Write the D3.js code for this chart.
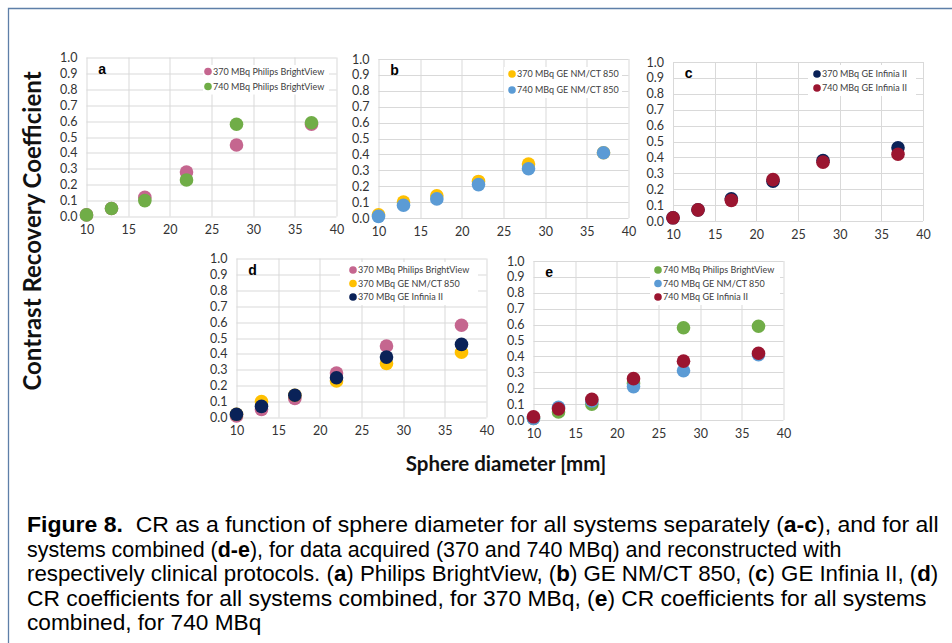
<!DOCTYPE html>
<html>
<head>
<meta charset="utf-8">
<script src="https://cdn.jsdelivr.net/npm/d3@7"></script>
<style>
  html, body { margin: 0; padding: 0; background: #fff; }
  svg { display: block; }
</style>
</head>
<body>
<svg id="fig" width="952" height="643"></svg>
<script>
// Sphere diameters (mm)
const diameters = [10, 13, 17, 22, 28, 37];

// Contrast recovery coefficients per system and activity
const philips370 = [0.01, 0.05, 0.12, 0.28, 0.45, 0.58];
const philips740 = [0.01, 0.05, 0.10, 0.23, 0.58, 0.59];
const geNmct370  = [0.02, 0.10, 0.14, 0.23, 0.34, 0.41];
const geNmct740  = [0.01, 0.08, 0.12, 0.21, 0.31, 0.41];
const infinia370 = [0.02, 0.07, 0.14, 0.25, 0.38, 0.46];
const infinia740 = [0.02, 0.07, 0.13, 0.26, 0.37, 0.42];

// Axis ticks
const xTicks = [10, 15, 20, 25, 30, 35, 40];
const yTicks = [0, 0.1, 0.2, 0.3, 0.4, 0.5, 0.6, 0.7, 0.8, 0.9, 1.0];

const series = {
  p370: { name: "370 MBq Philips BrightView", values: philips370, color: "#C5668F" },
  p740: { name: "740 MBq Philips BrightView", values: philips740, color: "#70AD47" },
  g370: { name: "370 MBq GE NM/CT 850", values: geNmct370, color: "#FFC000" },
  g740: { name: "740 MBq GE NM/CT 850", values: geNmct740, color: "#5B9BD5" },
  i370: { name: "370 MBq GE Infinia II", values: infinia370, color: "#0A2258" },
  i740: { name: "740 MBq GE Infinia II", values: infinia740, color: "#9B1530" }
};

// Panel layout: plot-area origin and legend placement
const panels = [
  { tag: "a", left: 86.5, top: 57.5, keys: ["p370", "p740"], legend: { x: 203, y: 65, w: 126, rowY: [71.5, 86.5], dx: 5 } },
  { tag: "b", left: 378.5, top: 59,  keys: ["g370", "g740"], legend: { x: 504, y: 67, w: 118, rowY: [74, 90], dx: 8 } },
  { tag: "c", left: 673,   top: 62,  keys: ["i370", "i740"], legend: { x: 808, y: 65, w: 108, rowY: [74, 88], dx: 9 } },
  { tag: "d", left: 236.5, top: 258.5, keys: ["p370", "g370", "i370"], legend: { x: 340, y: 262, w: 138, rowY: [270, 283.5, 297], dx: 13 } },
  { tag: "e", left: 533.5, top: 261, keys: ["p740", "g740", "i740"], legend: { x: 650, y: 262, w: 130, rowY: [270, 283.5, 297], dx: 8 } }
];

const W = 250, H = 159;
const svg = d3.select("#fig");

// Outer figure frame
svg.append("path")
  .attr("d", "M8.5,643 V8.5 H952")
  .attr("fill", "none")
  .attr("stroke", "#5E7FA8")
  .attr("stroke-width", 1.3);

const tickFont = "Lato, 'Open Sans', sans-serif";

panels.forEach(p => {
  const x = d3.scaleLinear().domain([10, 40]).range([0, W]);
  const y = d3.scaleLinear().domain([0, 1]).range([H, 0]);
  const g = svg.append("g").attr("transform", `translate(${p.left},${p.top})`);

  // Gridlines
  g.append("g").selectAll("line").data(yTicks).join("line")
    .attr("x1", 0).attr("x2", W)
    .attr("y1", d => Math.round(y(d)) + 0.5).attr("y2", d => Math.round(y(d)) + 0.5)
    .attr("stroke", "#D9D9D9");
  g.append("g").selectAll("line").data(xTicks).join("line")
    .attr("y1", 0).attr("y2", H)
    .attr("x1", d => Math.round(x(d)) + 0.5).attr("x2", d => Math.round(x(d)) + 0.5)
    .attr("stroke", "#D9D9D9");

  // Axes (labels only, lines drawn by the grid)
  const yAxis = g.append("g")
    .call(d3.axisLeft(y).tickValues(yTicks).tickFormat(d3.format(".1f")).tickSize(0).tickPadding(9));
  const xAxis = g.append("g").attr("transform", `translate(0,${H})`)
    .call(d3.axisBottom(x).tickValues(xTicks).tickFormat(d3.format("d")).tickSize(0).tickPadding(9));
  [yAxis, xAxis].forEach(a => {
    a.select(".domain").remove();
    a.selectAll("text").attr("font-family", tickFont).attr("font-size", 12.5).attr("fill", "#333");
  });

  const L = p.legend;
  const lg = svg.append("g");

  // Data points, later series drawn on top
  p.keys.forEach(k => {
    const s = series[k];
    g.append("g").selectAll("circle").data(diameters.map((d, i) => [d, s.values[i]])).join("circle")
      .attr("cx", d => x(d[0])).attr("cy", d => y(d[1]))
      .attr("r", 6.8)
      .attr("fill", s.color);
  });

  // Legend box hides the grid behind it
  lg.append("rect")
    .attr("x", L.x).attr("y", L.y).attr("width", L.w).attr("height", L.rowY[L.rowY.length - 1] - L.y + 8)
    .attr("fill", "#fff");
  p.keys.forEach((k, i) => {
    const s = series[k];
    lg.append("circle").attr("cx", L.x + L.dx).attr("cy", L.rowY[i]).attr("r", 3.8).attr("fill", s.color);
    lg.append("text").attr("x", L.x + L.dx + 5).attr("y", L.rowY[i]).attr("dy", "0.35em")
      .attr("font-family", tickFont).attr("font-size", 9).attr("fill", "#404040")
      .text(s.name);
  });

  // Panel letter
  g.append("text")
    .attr("transform", `translate(${x(11.4)},${y(0.93)})`)
    .attr("dy", "0.35em")
    .attr("font-family", "'Liberation Sans', Arial, sans-serif")
    .attr("font-weight", "bold").attr("font-size", 14).attr("fill", "#000")
    .text(p.tag);
});

// Shared axis titles
svg.append("text")
  .attr("transform", "translate(33,231) rotate(-90)")
  .attr("text-anchor", "middle").attr("dy", "0.35em")
  .attr("font-family", "Lato, 'Open Sans', sans-serif").attr("font-weight", "bold")
  .attr("font-size", 24).attr("fill", "#111")
  .text("Contrast Recovery Coefficient");

svg.append("text")
  .attr("x", 506).attr("y", 464)
  .attr("text-anchor", "middle").attr("dy", "0.35em")
  .attr("font-family", "Lato, 'Open Sans', sans-serif").attr("font-weight", "bold")
  .attr("font-size", 20.5).attr("fill", "#111")
  .text("Sphere diameter [mm]");

// Figure caption with bold fragments; each line is fitted to its set width
const captionLines = [
  [["Figure 8.", true], ["  CR as a function of sphere diameter for all systems separately (", false], ["a-c", true], ["), and for all", false]],
  [["systems combined (", false], ["d-e", true], ["), for data acquired (370 and 740 MBq) and reconstructed with", false]],
  [["respectively clinical protocols. (", false], ["a", true], [") Philips BrightView, (", false], ["b", true], [") GE NM/CT 850, (", false], ["c", true], [") GE Infinia II, (", false], ["d", true], [")", false]],
  [["CR coefficients for all systems combined, for 370 MBq, (", false], ["e", true], [") CR coefficients for all systems", false]],
  [["combined, for 740 MBq", false]]
];
const captionWidths = [912, 815, 912, 900, null];

const capX = 27;
const cap = svg.append("g")
  .attr("font-family", "'Liberation Sans', Arial, sans-serif")
  .attr("font-size", 22).attr("fill", "#000");
captionLines.forEach((line, i) => {
  const baseY = 532 + i * 24.5;
  const t = cap.append("text").attr("x", 0).attr("y", 0).attr("xml:space", "preserve");
  line.forEach(([str, bold]) => {
    t.append("tspan").attr("font-weight", bold ? "bold" : "normal").text(str);
  });
  const natural = t.node().getComputedTextLength();
  const sx = captionWidths[i] ? captionWidths[i] / natural : 1.03;
  t.attr("transform", `translate(${capX},${baseY}) scale(${sx},1)`);
});
</script>
</body>
</html>
